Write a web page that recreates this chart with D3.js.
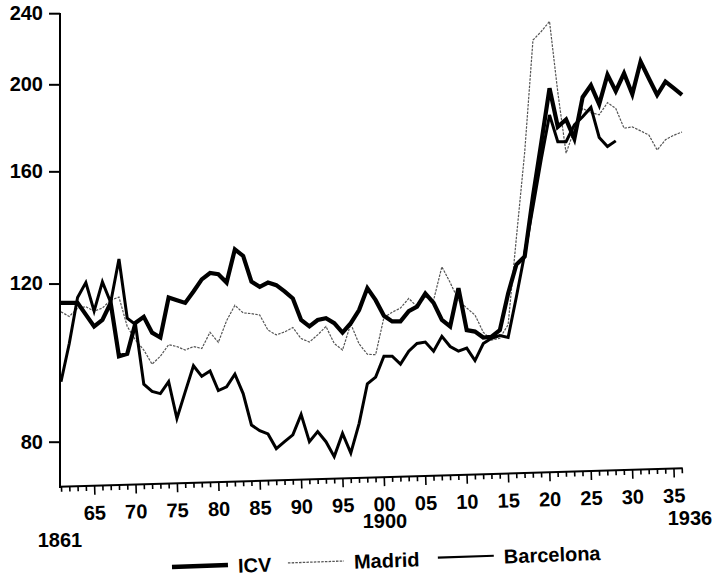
<!DOCTYPE html>
<html>
<head>
<meta charset="utf-8">
<script src="https://cdn.jsdelivr.net/npm/d3@7"></script>
<style>
  html, body { margin: 0; padding: 0; background: #fff; }
  text { font-family: "Liberation Sans", Arial, Helvetica, sans-serif; font-weight: bold; fill: #000; }
</style>
</head>
<body>
<script>
// ---- data ----
const icvStart = 1861;
const icvValues = [114.2,114.2,114.2,110.8,107.5,109.3,114.2,99.6,100.2,108.5,
  110.2,105.8,104.5,115.8,115.0,114.2,117.6,121.3,123.3,122.9,
  120.3,131.0,128.8,120.6,119.0,120.3,119.5,117.6,115.5,109.3,
  107.5,109.3,109.8,108.4,105.8,108.4,112.1,118.6,115.0,110.5,
  108.9,108.9,111.8,113.1,117.0,114.2,109.3,107.5,118.6,106.5,
  106.1,104.5,104.7,106.5,117.0,126.0,128.6,150.0,172.0,198.0,
  179.4,182.8,174.0,193.5,199.5,190.0,205.0,196.5,205.7,195.0,
  212.0,203.0,194.6,201.4,198.0,194.6];

const madridStart = 1861;
const madridValues = [111.6,110.3,112.6,113.1,111.8,112.7,115.0,115.9,107.5,103.8,
  101.2,97.6,99.6,102.6,102.1,101.2,102.1,101.6,105.9,103.2,
  109.1,113.5,111.3,111.1,110.7,106.5,105.2,106.0,107.2,104.2,
  103.3,105.2,107.5,102.9,101.2,108.2,102.8,100.1,100.0,110.0,
  111.5,112.7,115.5,113.1,115.9,115.0,125.3,120.3,115.0,112.7,
  110.7,105.9,103.8,104.3,108.0,135.0,168.0,224.0,229.0,235.0,
  196.0,167.6,178.0,188.0,186.0,185.0,190.8,188.0,178.7,179.3,
  177.5,175.6,169.0,173.5,175.5,177.0];

const barcelonaStart = 1861;
const barcelonaValues = [93.3,102.9,115.8,120.3,111.8,120.5,114.3,127.8,109.8,108.0,
  92.7,91.0,90.5,93.3,84.9,90.9,97.2,94.6,95.9,91.2,
  92.1,95.1,90.5,83.5,82.3,81.6,78.6,80.0,81.4,85.8,
  80.0,82.1,80.0,77.0,81.7,77.7,83.8,92.8,94.4,99.6,
  99.6,97.6,100.9,102.9,103.3,100.9,104.8,102.1,100.9,101.7,
  98.5,102.9,104.3,105.0,104.5,116.0,129.5,146.0,165.0,184.9,
  172.6,172.6,180.2,184.0,188.5,174.5,170.5,173.0];

const yTicks = [80, 120, 160, 200, 240];
const xLabelYears = [1865,1870,1875,1880,1885,1890,1895,1900,1905,1910,1915,1920,1925,1930,1935];
const centuryLabels = ["1861", "1900", "1936"];
const legendNames = ["ICV", "Madrid", "Barcelona"];

// ---- chart ----
const W = 712, H = 579;
const svg = d3.select("body").append("svg").attr("width", W).attr("height", H);

const x = d3.scaleLinear().domain([1861, 1936]).range([61, 682]);
const y = d3.scaleLog().domain([80, 240]).range([441.7, 13.2]);

const toPts = (start, vals) => vals.map((v, i) => [start + i, v]);
const line = d3.line().x(d => x(d[0])).y(d => y(d[1]));

// y axis
const yAxis = svg.append("g").attr("transform", "translate(60,0)")
  .call(d3.axisLeft(y).tickValues(yTicks).tickSize(11).tickPadding(6).tickFormat(d3.format("d")));
yAxis.select(".domain").remove();
yAxis.selectAll(".tick line").attr("stroke", "#000").attr("stroke-width", 2);
yAxis.selectAll(".tick text").attr("font-size", 20).attr("font-family", "Liberation Sans, Arial, sans-serif").attr("font-weight", "bold");
svg.append("line").attr("x1", 60).attr("x2", 60).attr("y1", 13).attr("y2", 488)
  .attr("stroke", "#000").attr("stroke-width", 2);

// x axis (tilted as in the original print)
const xg = svg.append("g").attr("transform", "translate(0,486.7) rotate(-1.69,60,0)");
const xAxis = d3.axisBottom(x).tickValues(d3.range(1861, 1937)).tickSize(5).tickFormat("");
xg.call(xAxis);
xg.select(".domain").remove();
xg.selectAll(".tick line").attr("stroke", "#000").attr("stroke-width", 1.6)
  .attr("y2", d => (d % 5 === 0 ? 9 : 5));
xg.append("line").attr("x1", 59).attr("x2", 683).attr("y1", 0).attr("y2", 0)
  .attr("stroke", "#000").attr("stroke-width", 2);
xg.selectAll("text.xl").data(xLabelYears).join("text").attr("class", "xl")
  .attr("x", d => x(d)).attr("y", 34).attr("text-anchor", "middle")
  .attr("font-size", 20).text(d => String(d).slice(2));

// century labels
const centPos = [[60, 547], [385, 528], [690, 525]];
svg.selectAll("text.cent").data(centuryLabels).join("text").attr("class", "cent")
  .attr("x", (d, i) => centPos[i][0]).attr("y", (d, i) => centPos[i][1])
  .attr("text-anchor", "middle").attr("font-size", 20).text(d => d);

// series
svg.append("path").datum(toPts(madridStart, madridValues))
  .attr("d", line).attr("fill", "none").attr("stroke", "#555")
  .attr("stroke-width", 1.2).attr("stroke-dasharray", "2.5 1.2");
svg.append("path").datum(toPts(barcelonaStart, barcelonaValues))
  .attr("d", line).attr("fill", "none").attr("stroke", "#000")
  .attr("stroke-width", 3);
svg.append("path").datum(toPts(icvStart, icvValues))
  .attr("d", line).attr("fill", "none").attr("stroke", "#000")
  .attr("stroke-width", 4.2);

// legend
const lg = svg.append("g").attr("transform", "translate(172,567) rotate(-2)");
const legendItems = [
  {name: legendNames[0], x0: 0, stroke: "#000", w: 4.5, dash: null},
  {name: legendNames[1], x0: 116, stroke: "#555", w: 1.3, dash: "2.5 1.2"},
  {name: legendNames[2], x0: 266, stroke: "#000", w: 2.2, dash: null}
];
legendItems.forEach(it => {
  lg.append("line").attr("x1", it.x0).attr("x2", it.x0 + 56).attr("y1", 0).attr("y2", 0)
    .attr("stroke", it.stroke).attr("stroke-width", it.w).attr("stroke-dasharray", it.dash);
  lg.append("text").attr("x", it.x0 + 66).attr("y", 8).attr("font-size", 20).text(it.name);
});
</script>
</body>
</html>
